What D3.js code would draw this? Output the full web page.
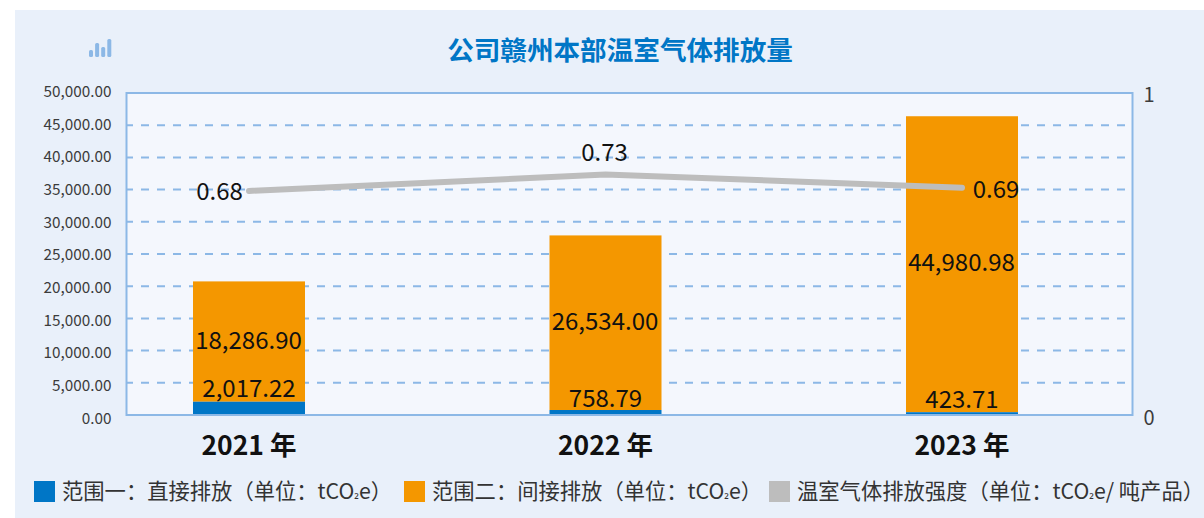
<!DOCTYPE html>
<html>
<head>
<meta charset="utf-8">
<script src="https://cdn.jsdelivr.net/npm/d3@7"></script>
<style>
  html, body { margin: 0; padding: 0; background: #fff; }
  text { font-family: "Noto Sans CJK SC", "Noto Sans", sans-serif; }
</style>
</head>
<body>
<div id="chart"></div>
<script>
// data
var years = ["2021 年", "2022 年", "2023 年"];
var scope1 = [2017.22, 758.79, 423.71];
var scope2 = [18286.90, 26534.00, 44980.98];
var intensity = [0.68, 0.73, 0.69];
var leftTicks = [0, 5000, 10000, 15000, 20000, 25000, 30000, 35000, 40000, 45000, 50000];
var rightTicks = [0, 1];
var legendNames = ["范围一：直接排放（单位：tCO₂e）", "范围二：间接排放（单位：tCO₂e）", "温室气体排放强度（单位：tCO₂e/ 吨产品）"];

var width = 1204, height = 518;
var plot = {left: 126.5, right: 1132.5, top: 93, bottom: 415};
var blue = "#0076c6", orange = "#f49700", grey = "#bdbdbd", frame = "#8cb8e6";

var svg = d3.select("#chart").append("svg")
  .attr("width", width).attr("height", height)
  .style("display", "block");

svg.append("rect").attr("x", 15).attr("y", 10)
  .attr("width", width - 15).attr("height", height - 10).attr("fill", "#e9f0fa");
svg.append("rect").attr("x", plot.left).attr("y", plot.top)
  .attr("width", plot.right - plot.left).attr("height", plot.bottom - plot.top)
  .attr("fill", "#f4f7fd");

// the original is not quite consistent: grid, tick labels and marks each sit on a slightly different scale
var x = d3.scalePoint().domain(years).range([249, 962]);
var yGrid = d3.scaleLinear().domain([0, 50000]).range([plot.bottom, plot.top]);
var yLeftLabels = d3.scaleLinear().domain([0, 50000]).range([418, 91]);
var yBars = d3.scaleLinear().domain([0, 50000]).range([plot.bottom, 86]);
var yRightLabels = d3.scaleLinear().domain([0, 1]).range([417, 94]);
var yLine = d3.scaleLinear().domain([0, 1]).range([plot.bottom, 85.5]);
var barWidth = 112;

// gridlines
svg.append("g").selectAll("line")
  .data(leftTicks.slice(1, -1))
  .enter().append("line")
  .attr("x1", plot.left).attr("x2", plot.right)
  .attr("y1", function (d) { return yGrid(d); })
  .attr("y2", function (d) { return yGrid(d); })
  .attr("stroke", frame).attr("stroke-width", 2)
  .attr("stroke-dasharray", "8 8").attr("stroke-dashoffset", 1.5);

// left axis
var leftAxis = d3.axisLeft(yLeftLabels).tickValues(leftTicks)
  .tickFormat(d3.format(",.2f")).tickSize(0).tickPadding(15);
var gLeft = svg.append("g").attr("transform", "translate(" + plot.left + ",0)").call(leftAxis);
gLeft.select(".domain").remove();
gLeft.selectAll("text").attr("font-size", 15.3).attr("fill", "#3c3c3c").attr("dy", "0.35em");

// right axis
var rightAxis = d3.axisRight(yRightLabels).tickValues(rightTicks)
  .tickFormat(d3.format("d")).tickSize(0).tickPadding(11);
var gRight = svg.append("g").attr("transform", "translate(" + plot.right + ",0)").call(rightAxis);
gRight.select(".domain").remove();
gRight.selectAll("text").attr("font-size", 20).attr("fill", "#3c3c3c").attr("dy", "0.35em");

// stacked bars
svg.append("g").selectAll("rect").data(years).enter().append("rect")
  .attr("x", function (d) { return x(d) - barWidth / 2; })
  .attr("width", barWidth)
  .attr("y", function (d, i) { return yBars(scope1[i] + scope2[i]); })
  .attr("height", function (d, i) { return yBars(scope1[i]) - yBars(scope1[i] + scope2[i]); })
  .attr("fill", orange);
svg.append("g").selectAll("rect").data(years).enter().append("rect")
  .attr("x", function (d) { return x(d) - barWidth / 2; })
  .attr("width", barWidth)
  .attr("y", function (d, i) { return yBars(scope1[i]); })
  .attr("height", function (d, i) { return yBars(0) - yBars(scope1[i]); })
  .attr("fill", blue);

// plot frame on top of the bars
svg.append("rect").attr("x", plot.left).attr("y", plot.top)
  .attr("width", plot.right - plot.left).attr("height", plot.bottom - plot.top)
  .attr("fill", "none").attr("stroke", frame).attr("stroke-width", 2);

// intensity line
var line = d3.line()
  .x(function (d, i) { return x(years[i]); })
  .y(function (d) { return yLine(d); });
svg.append("path").datum(intensity).attr("d", line)
  .attr("fill", "none").attr("stroke", grey)
  .attr("stroke-width", 6).attr("stroke-linecap", "round");

// value labels
function valueLabels(values, xFn, yFn, fmt) {
  svg.append("g").selectAll("text").data(values).enter().append("text")
    .attr("x", xFn).attr("y", yFn)
    .attr("text-anchor", "middle").attr("font-size", 24).attr("fill", "#111")
    .attr("dy", "0.35em")
    .text(d3.format(fmt));
}
var fmt2 = ",.2f";
valueLabels(scope1, function (d, i) { return x(years[i]); },
  function (d, i) { return [389, 399, 400][i]; }, fmt2);
valueLabels(scope2, function (d, i) { return x(years[i]) - 0.5; },
  function (d, i) { return [341, 322, 263][i]; }, fmt2);
valueLabels(intensity, function (d, i) { return x(years[i]) + [-29.5, -1, 34][i]; },
  function (d, i) { return yLine(d) + [1, -22, 2][i]; }, ".2f");

// year labels
svg.append("g").selectAll("text").data(years).enter().append("text")
  .attr("x", function (d) { return x(d); }).attr("y", 446)
  .attr("text-anchor", "middle").attr("dy", "0.35em")
  .attr("font-size", 26.5).attr("font-weight", 700).attr("fill", "#111")
  .text(function (d) { return d; });

// title and the small icon
svg.append("text").attr("x", 620).attr("y", 51)
  .attr("text-anchor", "middle").attr("dy", "0.35em")
  .attr("font-size", 26.6).attr("font-weight", 700).attr("fill", "#0076c6")
  .text("公司赣州本部温室气体排放量");

var iconBars = [7, 14, 10, 18];
svg.append("g").selectAll("rect").data(iconBars).enter().append("rect")
  .attr("x", function (d, i) { return 89 + i * 6.1; })
  .attr("y", function (d) { return 57 - d; })
  .attr("width", 4).attr("height", function (d) { return d; })
  .attr("rx", 1.5).attr("fill", frame);

// legend
var legendX = [34, 404, 769];
var legendColors = [blue, orange, grey];
var gLegend = svg.append("g");
legendNames.forEach(function (name, i) {
  gLegend.append("rect").attr("x", legendX[i]).attr("y", 481)
    .attr("width", 21).attr("height", 21).attr("fill", legendColors[i]);
  var label = gLegend.append("text").attr("x", legendX[i] + 28).attr("y", 492)
    .attr("dy", "0.35em").attr("font-size", 21.3).attr("fill", "#333");
  // the subscript is drawn smaller, as in the original
  var parts = name.split("₂");
  label.append("tspan").text(parts[0]);
  label.append("tspan").attr("font-size", 13).attr("dy", "-2").text("₂");
  label.append("tspan").attr("dy", "2").text(parts[1]);
});
</script>
</body>
</html>
